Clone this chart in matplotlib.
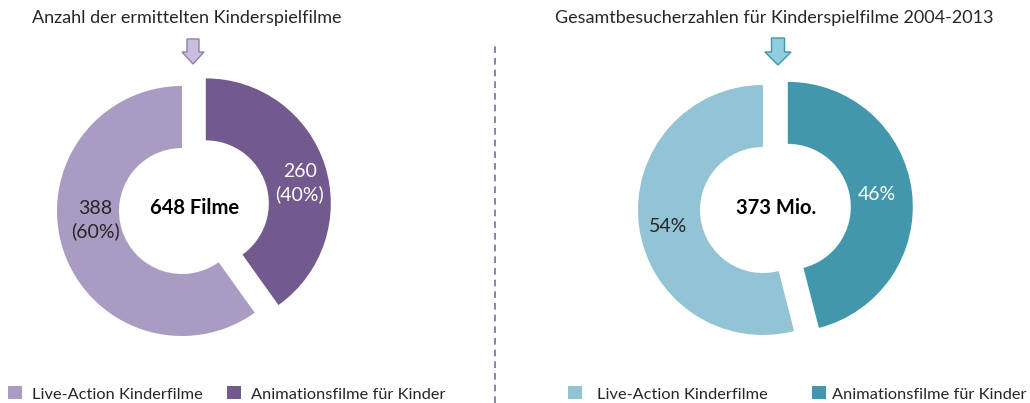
import matplotlib
matplotlib.use("Agg")
import matplotlib.pyplot as plt
from matplotlib.patches import FancyArrow

# ---- data ----
categories = ["Animationsfilme für Kinder", "Live-Action Kinderfilme"]
film_counts = [260, 388]
film_shares = [40, 60]
visitor_shares = [46, 54]
total_films = 648
total_visitors_mio = 373
titles = ["Anzahl der ermittelten Kinderspielfilme",
          "Gesamtbesucherzahlen für Kinderspielfilme 2004-2013"]

purple = ["#725A8E", "#A99BC2"]
blue = ["#4297AD", "#92C4D5"]

plt.rcParams['font.family'] = ['Lato', 'DejaVu Sans']

W, H = 1030, 403
fig = plt.figure(figsize=(W / 100, H / 100), dpi=100)
ax = fig.add_axes([0, 0, 1, 1])

R = 125
ring = 62
gap = 25
c1 = (182, H - 211)
c2 = (763, H - 210)

wp = dict(width=ring, linewidth=0)
w1, _ = ax.pie(film_counts, colors=purple, startangle=90, counterclock=False,
               explode=[gap, 0], radius=R, center=c1, wedgeprops=wp, frame=True)
w2, _ = ax.pie(visitor_shares, colors=blue, startangle=90, counterclock=False,
               explode=[gap, 0], radius=R, center=c2, wedgeprops=wp, frame=True)

ax.set_xlim(0, W)
ax.set_ylim(0, H)
ax.set_aspect('equal')
ax.axis('off')

dark = "#262626"
fs = 14
# left labels
ax.text(c1[0] - 87, c1[1] - 9, f"{film_counts[1]}\n({film_shares[1]}%)", ha='center', va='center',
        fontsize=fs, color=dark, linespacing=1.4)
ax.text(c1[0] + 118, c1[1] + 28, f"{film_counts[0]}\n({film_shares[0]}%)", ha='center', va='center',
        fontsize=fs, color='white', linespacing=1.4)
ax.text(c1[0] + 13, c1[1] + 3, f"{total_films} Filme", ha='center', va='center',
        fontsize=14.5, color='black', fontweight='bold')
# right labels
ax.text(c2[0] - 95, c2[1] - 16, f"{visitor_shares[1]}%", ha='center', va='center',
        fontsize=fs, color=dark)
ax.text(c2[0] + 114, c2[1] + 15, f"{visitor_shares[0]}%", ha='center', va='center',
        fontsize=fs, color='white')
ax.text(c2[0] + 13, c2[1] + 2, f"{total_visitors_mio} Mio.", ha='center', va='center',
        fontsize=14.5, color='black', fontweight='bold')

# titles
ax.text(187, H - 18, titles[0], ha='center', va='center', fontsize=13, color=dark)
ax.text(774, H - 18, titles[1], ha='center', va='center', fontsize=13, color=dark)

# arrows
ax.add_patch(FancyArrow(193, H - 39, 0, -25, width=12, head_width=22, head_length=12,
                        length_includes_head=True, fc="#C8BEDC", ec="#8F7FB0", lw=1))
ax.add_patch(FancyArrow(778, H - 38, 0, -27, width=13, head_width=26, head_length=13,
                        length_includes_head=True, fc="#92CDDF", ec="#3F95AA", lw=1))

# divider
ax.plot([495, 495], [0, H - 46], color="#7B6A9E", lw=1.2, linestyle=(0, (4, 3)))

# legends
legkw = dict(loc='center left', frameon=False, fontsize=11.8, handlelength=0.85,
             handleheight=0.85, borderaxespad=0, labelcolor=dark, borderpad=0)
leg1 = ax.legend([w1[1], w1[0]], [categories[1], categories[0]],
                 bbox_to_anchor=(8 / W, 9 / H), ncol=2, handletextpad=0.6,
                 columnspacing=1.5, **legkw)
ax.add_artist(leg1)
leg2 = ax.legend([w2[1]], [categories[1]], bbox_to_anchor=(568 / W, 9 / H),
                 handletextpad=0.9, **legkw)
ax.add_artist(leg2)
leg3 = ax.legend([w2[0]], [categories[0]], bbox_to_anchor=(812 / W, 9 / H),
                 handletextpad=0.35, **legkw)

fig.savefig("out.png", dpi=100, facecolor='white')
